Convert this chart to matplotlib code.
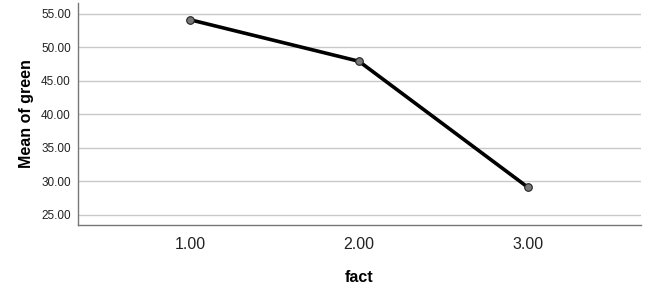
import matplotlib.pyplot as plt

plt.rcParams['font.family'] = ['Liberation Sans', 'DejaVu Sans']

# data
fact = [1.0, 2.0, 3.0]
mean_green = [54.1, 47.9, 29.1]
xtick_labels = ["1.00", "2.00", "3.00"]
ytick_vals = [25, 30, 35, 40, 45, 50, 55]

fig = plt.figure(figsize=(6.49, 2.94), dpi=100)
ax = fig.add_axes([0.120, 0.235, 0.868, 0.755])

ax.plot(fact, mean_green, color="black", linewidth=2.6, zorder=3)
ax.scatter(fact, mean_green, s=30, color="#777777", edgecolor="#222222",
           linewidth=0.8, zorder=4)

ax.set_xlim(0.337, 3.67)
ax.set_ylim(23.5, 56.6)
ax.set_xticks(fact)
ax.set_xticklabels(xtick_labels, fontsize=11.5, color="#222222")
ax.set_yticks(ytick_vals)
ax.set_yticklabels(["%.2f" % v for v in ytick_vals], fontsize=8.5, color="#222222")
ax.tick_params(length=0)
ax.tick_params(axis="x", pad=9)
ax.tick_params(axis="y", pad=5)

ax.grid(axis="y", color="#c8c8c8", linewidth=1)
ax.set_axisbelow(True)
for s in ["top", "right"]:
    ax.spines[s].set_visible(False)
for s in ["left", "bottom"]:
    ax.spines[s].set_color("#777777")
    ax.spines[s].set_linewidth(1)

ax.set_xlabel("fact", fontsize=11.5, fontweight="bold", labelpad=13)
ax.set_ylabel("Mean of green", fontsize=11.5, fontweight="bold", labelpad=5)

fig.savefig("out.png", dpi=100)
